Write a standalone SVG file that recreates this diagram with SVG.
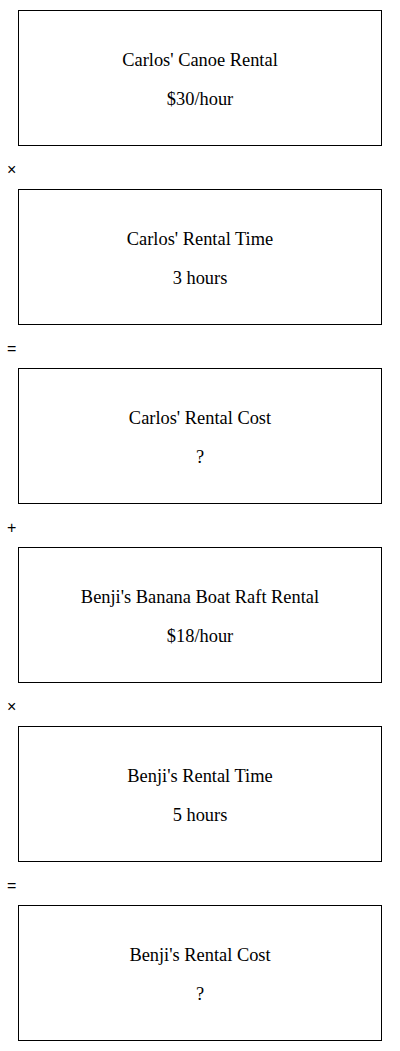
<svg xmlns="http://www.w3.org/2000/svg" width="400" height="1051" viewBox="0 0 400 1051">
<style>
.box{fill:#fff;stroke:#000;stroke-width:1}
.t{font-family:"Liberation Serif",serif;font-size:18.4px;text-anchor:middle;fill:#000}
.op{font-family:"Liberation Sans",Arial,sans-serif;font-size:16px;fill:#000}
</style>
<rect width="400" height="1051" fill="#fff"/>
<g id="n1"><rect class="box" x="18.5" y="10.5" width="363" height="135"/><text class="t" x="200" y="66">Carlos' Canoe Rental</text><text class="t" x="200" y="105">$30/hour</text></g>
<g id="connectors">
<text class="op" x="7" y="175">×</text>
<text class="op" x="7" y="354">=</text>
<text class="op" x="7" y="533">+</text>
<text class="op" x="7" y="712">×</text>
<text class="op" x="7" y="891">=</text>
</g>
<g id="n2"><rect class="box" x="18.5" y="189.5" width="363" height="135"/><text class="t" x="200" y="245">Carlos' Rental Time</text><text class="t" x="200" y="284">3 hours</text></g>
<g id="n3"><rect class="box" x="18.5" y="368.5" width="363" height="135"/><text class="t" x="200" y="424">Carlos' Rental Cost</text><text class="t" x="200" y="463">?</text></g>
<g id="n4"><rect class="box" x="18.5" y="547.5" width="363" height="135"/><text class="t" x="200" y="603">Benji's Banana Boat Raft Rental</text><text class="t" x="200" y="642">$18/hour</text></g>
<g id="n5"><rect class="box" x="18.5" y="726.5" width="363" height="135"/><text class="t" x="200" y="782">Benji's Rental Time</text><text class="t" x="200" y="821">5 hours</text></g>
<g id="n6"><rect class="box" x="18.5" y="905.5" width="363" height="135"/><text class="t" x="200" y="961">Benji's Rental Cost</text><text class="t" x="200" y="1000">?</text></g>
</svg>
